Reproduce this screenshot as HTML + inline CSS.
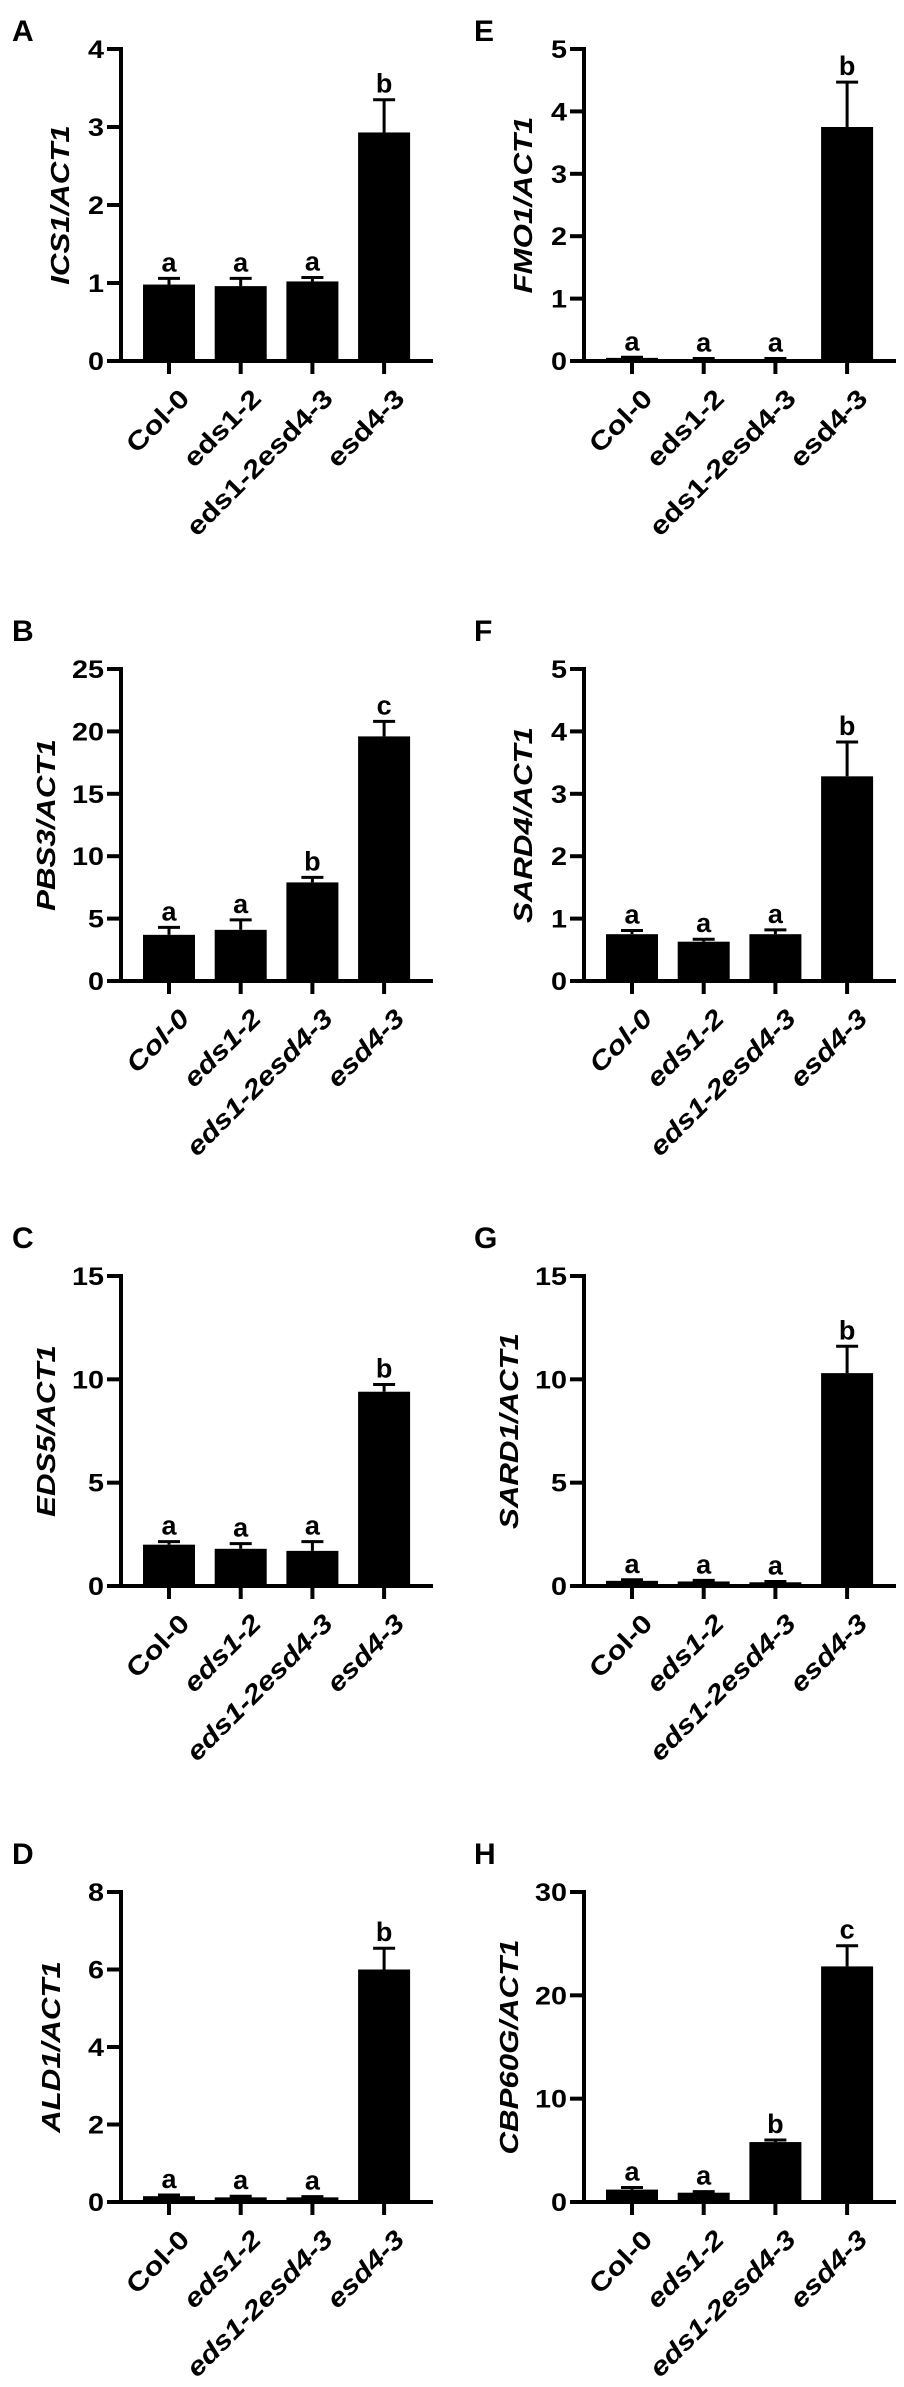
<!DOCTYPE html>
<html>
<head>
<meta charset="utf-8">
<style>
  html, body { margin: 0; padding: 0; background: #ffffff; }
  body { width: 904px; height: 2387px; overflow: hidden; }
  svg { display: block; }
  text { font-family: "Liberation Sans", Arial, sans-serif; fill: #000; }
</style>
</head>
<body>
<svg id="fig" width="904" height="2387" viewBox="0 0 904 2387" xmlns="http://www.w3.org/2000/svg"></svg>
<script>
// ---- data ----
const categories = ["Col-0", "eds1-2", "eds1-2esd4-3", "esd4-3"];
const panelLetters = ["A", "B", "C", "D", "E", "F", "G", "H"];
const panelTitles = ["ICS1/ACT1", "PBS3/ACT1", "EDS5/ACT1", "ALD1/ACT1", "FMO1/ACT1", "SARD4/ACT1", "SARD1/ACT1", "CBP60G/ACT1"];
const yMaxValues = [4, 25, 15, 8, 5, 5, 15, 30];
const tickValuesA = [0, 1, 2, 3, 4];
const tickValuesB = [0, 5, 10, 15, 20, 25];
const tickValuesC = [0, 5, 10, 15];
const tickValuesD = [0, 2, 4, 6, 8];
const tickValuesE = [0, 1, 2, 3, 4, 5];
const tickValuesF = [0, 1, 2, 3, 4, 5];
const tickValuesG = [0, 5, 10, 15];
const tickValuesH = [0, 10, 20, 30];
const meansA = [0.98, 0.96, 1.02, 2.93];
const errorsA = [0.08, 0.10, 0.05, 0.42];
const meansB = [3.7, 4.1, 7.9, 19.6];
const errorsB = [0.6, 0.8, 0.4, 1.2];
const meansC = [2.0, 1.8, 1.7, 9.4];
const errorsC = [0.15, 0.25, 0.45, 0.35];
const meansD = [0.15, 0.12, 0.12, 6.0];
const errorsD = [0.03, 0.03, 0.02, 0.55];
const meansE = [0.05, 0.03, 0.03, 3.75];
const errorsE = [0.01, 0.01, 0.01, 0.72];
const meansF = [0.75, 0.63, 0.75, 3.28];
const errorsF = [0.06, 0.04, 0.07, 0.55];
const meansG = [0.25, 0.22, 0.18, 10.3];
const errorsG = [0.05, 0.05, 0.04, 1.3];
const meansH = [1.2, 0.9, 5.8, 22.8];
const errorsH = [0.2, 0.1, 0.2, 2.0];
const sigA = ["a", "a", "a", "b"];
const sigB = ["a", "a", "b", "c"];
const sigC = ["a", "a", "a", "b"];
const sigD = ["a", "a", "a", "b"];
const sigE = ["a", "a", "a", "b"];
const sigF = ["a", "a", "a", "b"];
const sigG = ["a", "a", "a", "b"];
const sigH = ["a", "a", "b", "c"];
// italic style of category labels per panel: 0 = upright, 1 = all italic, 2 = italic except Col-0
const labelItalicMode = [0, 1, 2, 2, 0, 1, 2, 2];

const allTicks = [tickValuesA, tickValuesB, tickValuesC, tickValuesD, tickValuesE, tickValuesF, tickValuesG, tickValuesH];
const allMeans = [meansA, meansB, meansC, meansD, meansE, meansF, meansG, meansH];
const allErrors = [errorsA, errorsB, errorsC, errorsD, errorsE, errorsF, errorsG, errorsH];
const allSig = [sigA, sigB, sigC, sigD, sigE, sigF, sigG, sigH];

// ---- layout ----
const NS = "http://www.w3.org/2000/svg";
const svg = document.getElementById("fig");
const rowTop = [49, 669, 1276, 1892];
const rowZero = [361, 981, 1586, 2202];
const colAxisX = [121, 584];
const letterBaseline = [41, 641, 1248, 1864];
const letterX = [12, 474];
const firstBarCenter = 169;
const barStep = 71.7;
const barW = 52;
const xAxisRight = 433;

function mk(tag, attrs, parent) {
  const el = document.createElementNS(NS, tag);
  for (const k in attrs) el.setAttribute(k, attrs[k]);
  (parent || svg).appendChild(el);
  return el;
}

for (let p = 0; p < 8; p++) {
  const col = p < 4 ? 0 : 1;
  const row = p % 4;
  const ax = colAxisX[col];
  const off = ax - colAxisX[0];
  const top = rowTop[row];
  const zero = rowZero[row];
  const yMax = yMaxValues[p];
  const yScale = v => zero - (v / yMax) * (zero - top);
  const xScale = i => firstBarCenter + off + i * barStep;

  const g = mk("g", {});
  
  

  const lt = mk("text", { x: letterX[col], y: letterBaseline[row], "font-size": 30, "font-weight": "bold" }, g);
  lt.textContent = panelLetters[p];
  
  

  const means = allMeans[p], errs = allErrors[p], sig = allSig[p];
  for (let i = 0; i < categories.length; i++) {
    const cx = xScale(i);
    const yTop = yScale(means[i]);
    const r = mk("rect", { x: cx - barW / 2, y: yTop, width: barW, height: Math.max(zero - yTop, 1.5), fill: "#000" }, g);
    
    
    const yErr = yScale(means[i] + errs[i]);
    const el = mk("line", { x1: cx, x2: cx, y1: yTop, y2: yErr, stroke: "#000", "stroke-width": 3 }, g);
    
    
    const cap = mk("line", { x1: cx - 11, x2: cx + 11, y1: yErr, y2: yErr, stroke: "#000", "stroke-width": 3 }, g);
    
    
    const s = mk("text", { x: cx, y: Math.min(yErr, yTop) - 7, "font-size": 27, "font-weight": "bold", "text-anchor": "middle" }, g);
    s.textContent = sig[i];
    
    
  }

  const yAxis = mk("line", { x1: ax, x2: ax, y1: top - 2, y2: zero + 2, stroke: "#000", "stroke-width": 4 }, g);
  
  
  const xAxis = mk("line", { x1: ax - 2, x2: xAxisRight + off, y1: zero, y2: zero, stroke: "#000", "stroke-width": 4 }, g);
  
  

  const ticks = allTicks[p];
  for (let t = 0; t < ticks.length; t++) {
    const ty = yScale(ticks[t]);
    const tl = mk("line", { x1: ax - 14, x2: ax, y1: ty, y2: ty, stroke: "#000", "stroke-width": 4 }, g);
    
    
    const label = String(ticks[t]);
    const tt = mk("text", { x: ax - 17, y: ty + 9, "font-size": 25, "font-weight": "bold", "text-anchor": "end",
      textLength: label.length * 16, lengthAdjust: "spacingAndGlyphs" }, g);
    tt.textContent = label;
    
    
  }

  for (let i = 0; i < categories.length; i++) {
    const cx = xScale(i);
    const xt = mk("line", { x1: cx, x2: cx, y1: zero, y2: zero + 13, stroke: "#000", "stroke-width": 4 }, g);
    
    
    const ex = cx + 22, ey = zero + 39;
    const mode = labelItalicMode[p];
    const italic = mode === 1 || (mode === 2 && i > 0);
    const ct = mk("text", { x: ex, y: ey, "font-size": 26, "font-weight": "bold", "text-anchor": "end",
      "font-style": italic ? "italic" : "normal",
      transform: "rotate(-45 " + ex + " " + ey + ")" }, g);
    ct.textContent = categories[i];
    
    
    const w = ct.getComputedTextLength();
    if (w > 0) {
      ct.setAttribute("textLength", (w * 1.18).toFixed(1));
      ct.setAttribute("lengthAdjust", "spacingAndGlyphs");
    }
  }

  const twoDigit = ticks[ticks.length - 1] >= 10;
  let tx = twoDigit ? ax - 66 : ax - 52;
  if (p === 3) tx = ax - 61;
  const cy = (top + zero) / 2;
  const yt = mk("text", { x: tx, y: cy, "font-size": 26, "font-weight": "bold", "font-style": "italic", "text-anchor": "middle",
    transform: "rotate(-90 " + tx + " " + cy + ")" }, g);
  yt.textContent = panelTitles[p];
  
  
  const tw = yt.getComputedTextLength();
  if (tw > 0) {
    yt.setAttribute("textLength", (tw * 1.2).toFixed(1));
    yt.setAttribute("lengthAdjust", "spacingAndGlyphs");
  }
}
</script>
</body>
</html>
